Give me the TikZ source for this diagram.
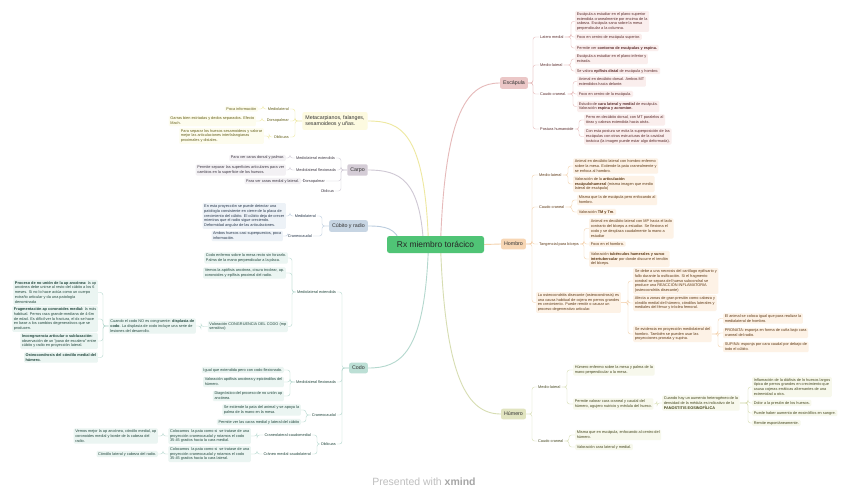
\documentclass[tikz,border=0pt]{standalone}
\usepackage{fontspec}
\setmainfont{Liberation Sans}
\usetikzlibrary{calc,backgrounds}
\definecolor{cenF}{RGB}{80,196,118}
\definecolor{escF}{RGB}{235,199,199}\definecolor{escL}{RGB}{250,238,237}\definecolor{escC}{RGB}{230,186,186}\definecolor{escT}{RGB}{92,45,45}
\definecolor{homF}{RGB}{247,214,180}\definecolor{homL}{RGB}{253,242,230}\definecolor{homC}{RGB}{244,209,172}\definecolor{homT}{RGB}{95,58,22}
\definecolor{humF}{RGB}{225,228,192}\definecolor{humL}{RGB}{247,248,236}\definecolor{humC}{RGB}{215,221,178}\definecolor{humT}{RGB}{70,72,32}
\definecolor{metF}{RGB}{253,250,224}\definecolor{metL}{RGB}{253,252,238}\definecolor{metC}{RGB}{238,232,160}\definecolor{metT}{RGB}{100,95,25}
\definecolor{carF}{RGB}{212,204,214}\definecolor{carL}{RGB}{243,241,244}\definecolor{carC}{RGB}{207,200,212}\definecolor{carT}{RGB}{62,56,68}
\definecolor{cubF}{RGB}{199,213,227}\definecolor{cubL}{RGB}{237,242,247}\definecolor{cubC}{RGB}{186,204,222}\definecolor{cubT}{RGB}{40,56,76}
\definecolor{codF}{RGB}{188,223,213}\definecolor{codL}{RGB}{235,245,242}\definecolor{codC}{RGB}{180,216,206}\definecolor{codT}{RGB}{35,72,62}
\newcommand\lf{\fontsize{3.85}{4.9}\selectfont}
\newcommand\rb[4][]{\draw[#1] (#2.east) let \p2=(#2.east) in -- (#4pt,\y2) |- (#3.west);}
\newcommand\lb[4][]{\draw[#1] (#2.west) let \p2=(#2.west) in -- (#4pt,\y2) |- (#3.east);}
\tikzset{
  leaf/.style={fill=#1L, text=#1T, rounded corners=1.2pt, inner xsep=1.6pt, inner ysep=1.3pt, align=left, font=\lf},
  lab/.style={text=#1T, inner sep=1pt, font=\lf},
  topic/.style={fill=#1F, text=black!80, rounded corners=2pt, font=\fontsize{5.3}{6.3}\selectfont, inner xsep=3pt, minimum height=10pt},
  mainline/.style={draw=#1C, line width=0.9pt},
}
\begin{document}
\begin{tikzpicture}[x=1pt,y=-1pt]
\useasboundingbox (0,0) rectangle (848,501);
\begin{scope}[on background layer]
\fill[white] (0,0) rectangle (848,501);
\end{scope}
% central and topics
\node[fill=cenF, rounded corners=2.5pt, minimum width=97pt, minimum height=17pt, font=\fontsize{8.4}{10}\selectfont, text=black!85] (C) at (435.5,244.5) {Rx miembro torácico};
\node[topic=esc] (E) at (514,83) {Escápula};
\node[topic=hom] (H) at (513.5,244) {Hombro};
\node[topic=hum] (U) at (513.5,414) {Húmero};
\node[topic=met, align=left, text=black!80] (M) at (335,121) {Metacarpianos, falanges,\\sesamoideos y uñas.};
\node[topic=car] (K) at (357.5,170) {Carpo};
\node[topic=cub] (R) at (348.5,226) {Cúbito y radio};
\node[topic=cod] (D) at (358.5,368) {Codo};
% ---------- Escapula
\node[lab=esc, anchor=west] (e1) at (539,37) {Latero medial};
\node[lab=esc, anchor=west] (e2) at (539,65) {Medio-lateral};
\node[lab=esc, anchor=west] (e3) at (539,94) {Caudo craneal.};
\node[lab=esc, anchor=west] (e4) at (539,129) {Postura humanoide};
\node[leaf=esc, anchor=west] (e1a) at (575,21.5) {Escápula a estudiar en el plano superior\\extendida cranealmente por encima de la\\cabeza. Escápula sana sobre la mesa\\perpendicular a la columna.};
\node[leaf=esc, anchor=west] (e1b) at (575,37) {Foco en centro de escápula superior.};
\node[leaf=esc, anchor=west] (e1c) at (575,48) {Permite ver \textbf{contorno de escápulas y espina.}};
\node[leaf=esc, anchor=west] (e2a) at (575,59) {Escápula a estudiar en el plano inferior y\\extrada.};
\node[leaf=esc, anchor=west] (e2b) at (575,71) {Se valora \textbf{epífisis distal} de escápula y hombro.};
\node[leaf=esc, anchor=west] (e3a) at (577,81.5) {Animal en decúbito dorsal. Ambos MT\\extendidos hacia delante.};
\node[leaf=esc, anchor=west] (e3b) at (577,94) {Foco en centro de la escápula.};
\node[leaf=esc, anchor=west] (e3c) at (577,106.5) {Estudio de \textbf{cara lateral y medial} de escápula.\\Valoración \textbf{espina y acromion}.};
\node[leaf=esc, anchor=west] (e4a) at (584,120) {Perro en decúbito dorsal, con MT paralelos al\\tórax y cabeza extendida hacia atrás.};
\node[leaf=esc, anchor=west] (e4b) at (584,136.5) {Con esta postura se evita la superposición de las\\escápulas con otras estructuras de la cavidad\\torácica (la imagen puede estar algo deformada).};
% ---------- Hombro
\node[lab=hom, anchor=west] (h1) at (538,175) {Medio-lateral};
\node[lab=hom, anchor=west] (h2) at (538,207) {Caudo craneal};
\node[lab=hom, anchor=west] (h3) at (538,244) {Tangencial para bíceps};
\node[leaf=hom, anchor=west] (h4) at (536,302.5) {La osteocondritis disecante (osteocondrosis) es\\una causa habitual de cojera en perros grandes\\en crecimiento. Puede remitir o causar un\\proceso degenerativo articular.};
\node[leaf=hom, anchor=west] (h1a) at (573,166) {Animal en decúbito lateral con hombro enfermo\\sobre la mesa. Extiende la pata cranealmente y\\se enfoca al hombro.};
\node[leaf=hom, anchor=west] (h1b) at (573,184) {Valoración de la \textbf{articulación}\\\textbf{escápulohumeral} (misma imagen que medio\\lateral de escápula)};
\node[leaf=hom, anchor=west] (h2a) at (577,200) {Misma que la de escápula pero enfocando al\\hombro.};
\node[leaf=hom, anchor=west] (h2b) at (577,212) {Valoración \textbf{TM y Tm}.};
\node[leaf=hom, anchor=west] (h3a) at (589,228.5) {Animal en decúbito lateral con MP hacia el lado\\contrario del bíceps a estudiar. Se flexiona el\\codo y se desplaza caudalmente la mano a\\estudiar};
\node[leaf=hom, anchor=west] (h3b) at (589,244) {Foco en el hombro.};
\node[leaf=hom, anchor=west] (h3c) at (589,259) {Valoración \textbf{tubérculos humerales y surco}\\\textbf{intertubercular} por donde discurre el tendón\\del bíceps.};
\node[leaf=hom, anchor=west] (h4a) at (633,281) {Se debe a una necrosis del cartílago epifisario y\\fallo durante la osificación. Si el fragmento\\condral se separa del hueso subcondral se\\produce una REACCIÓN INFLAMATORIA\\(osteocondritis disecante)};
\node[leaf=hom, anchor=west] (h4b) at (633,303) {Afecta a zonas de gran presión como cabeza y\\cóndilo medial del húmero, cóndilos laterales y\\mediales del fémur y tróclea femoral.};
\node[leaf=hom, anchor=west] (h4c) at (633,334) {Se evidencia en proyección mediolateral del\\hombro. También se pueden usar las\\proyecciones pronata y supina.};
\node[leaf=hom, anchor=west] (h4c1) at (723,318.5) {El animal se coloca igual que para realizar la\\medialateral de hombro.};
\node[leaf=hom, anchor=west] (h4c2) at (723,333) {PRONATA: esponja en forma de cuña bajo cara\\craneal del radio.};
\node[leaf=hom, anchor=west] (h4c3) at (723,347) {SUPINA: esponja por cara caudal por debajo de\\todo el cúbito.};
% ---------- Humero
\node[lab=hum, anchor=west] (u1) at (537,387) {Medio-lateral};
\node[lab=hum, anchor=west] (u2) at (537,441) {Caudo craneal};
\node[leaf=hum, anchor=west] (u1a) at (573,370) {Húmero enfermo sobre la mesa y palma de la\\mano perpendicular a la mesa.};
\node[leaf=hum, anchor=west] (u1b) at (573,404) {Permite valorar cara craneal y caudal del\\húmero, agujero nutricio y médula del hueso.};
\node[leaf=hum, anchor=west] (u1b1) at (662,403) {Cuando hay un aumento heterogéneo de la\\densidad de la médula es indicativo de la\\\textbf{PANOSTITIS EOSINOFÍLICA}};
\node[leaf=hum, anchor=west] (p1) at (752,387) {Inflamación de la diáfisis de lo huesos largos\\típica de perros grandes en crecimiento que\\causa cojeras erráticas alternantes de una\\extremidad a otra.};
\node[leaf=hum, anchor=west] (p2) at (752,403) {Dolor a la presión de los huesos.};
\node[leaf=hum, anchor=west] (p3) at (752,413) {Puede haber aumento de eosinófilos en sangre.};
\node[leaf=hum, anchor=west] (p4) at (752,423) {Remite espontáneamente.};
\node[leaf=hum, anchor=west] (u2a) at (575,435) {Misma que en escápula, enfocando al centro del\\húmero.};
\node[leaf=hum, anchor=west] (u2b) at (575,447) {Valoración cara lateral y medial.};
% ---------- Metacarpianos
\node[lab=met, anchor=east] (m1) at (290,109) {Mediolateral};
\node[lab=met, anchor=east] (m2) at (290,121) {Dorsopalmar};
\node[lab=met, anchor=east] (m3) at (290,137) {Oblicuas};
\node[leaf=met, anchor=east] (m1a) at (258,109) {Poca información};
\node[leaf=met, anchor=east] (m2a) at (256,121) {Garras bien estriadas y dedos separados. Efecto\\Mach.};
\node[leaf=met, anchor=east] (m3a) at (264,136) {Para separar los huesos sesamoideos y valorar\\mejor las articulaciones interfalangianas\\proximales y distales.};
% ---------- Carpo
\node[lab=car, anchor=east] (k1) at (336,158) {Mediolateral extendida};
\node[lab=car, anchor=east] (k2) at (337,170) {Mediolateral flexionada};
\node[lab=car, anchor=east] (k3) at (326,181) {Dorsopalmar};
\node[lab=car, anchor=east] (k4) at (335,191) {Oblicua};
\node[leaf=car, anchor=east] (k1a) at (286,158) {Para ver caras dorsal y palmar.};
\node[leaf=car, anchor=east] (k2a) at (286,170) {Permite separar las superficies articulares para ver\\cambios en la superficie de los huesos.};
\node[leaf=car, anchor=east] (k3a) at (301,181) {Para ver caras medial y lateral.};
% ---------- Cubito
\node[lab=cub, anchor=east] (r1) at (317,216) {Mediolateral};
\node[lab=cub, anchor=east] (r2) at (313,236) {Craneocaudal};
\node[leaf=cub, anchor=east] (r1a) at (286,216) {En esta proyección se puede detectar una\\patología consistente en cierre de la placa de\\crecimiento del cúbito. El cúbito deja de crecer\\mientras que el radio sigue creciendo.\\Deformidad angular de las articulaciones.};
\node[leaf=cub, anchor=east] (r2a) at (283,236) {Ambos huesos casi superpuestos, poca\\información.};
% ---------- Codo
\node[lab=cod, anchor=east] (d1) at (337,292) {Mediolateral extendida};
\node[lab=cod, anchor=east] (d2) at (337,382) {Mediolateral flexionada};
\node[lab=cod, anchor=east] (d3) at (337,415) {Craneocaudal};
\node[lab=cod, anchor=east] (d4) at (337,444) {Oblicuas};
\node[leaf=cod, anchor=east] (d1a) at (288,258) {Codo enfermo sobre la mesa recto sin forzarlo.\\Palma de la mano perpendicular a la placa.};
\node[leaf=cod, anchor=east] (d1b) at (286,273) {Vemos la apófisis ancónea, cisura troclear, ap.\\coronoides y epífisis proximal del radio.};
\node[leaf=cod, anchor=east] (d1c) at (288,326.5) {Valoración CONGRUENCIA DEL CODO (mp\\sensitivo)};
\node[leaf=cod, anchor=east] (d1c1) at (196,326) {Cuando el codo NO es congruente: \textbf{displasia de}\\\textbf{codo}. La displasia de codo incluye una serie de\\lesiones del desarrollo.};
\node[leaf=cod, anchor=east] (q1) at (98,292.5) {\textbf{Proceso de no unión de la ap ancónea:} la ap\\ancónea debe unirse al resto del cúbito a los 6\\meses. Si no lo hace actúa como un cuerpo\\extraño articular y da una patología\\denominada};
\node[leaf=cod, anchor=east] (q2) at (98,319) {\textbf{Fragmentación ap coronoides medial:} la más\\habitual. Perros raza grande-mediana de 4-6m\\de edad. Es difícil ver la fractura, el dx se hace\\en base a los cambios degenerativos que se\\producen.};
\node[leaf=cod, anchor=east] (q3) at (98,341) {\textbf{Incongruencia articular o subluxación:}\\observación de un "paso de escalera" entre\\cúbito y radio en proyección lateral.};
\node[leaf=cod, anchor=east] (q4) at (98,357.5) {\textbf{Osteocondrosis del cóndilo medial del}\\\textbf{húmero.}};
\node[leaf=cod, anchor=east] (d2a) at (284,370) {Igual que extendida pero con codo flexionado.};
\node[leaf=cod, anchor=east] (d2b) at (284,382) {Valoración apófisis ancónea y epicóndilos del\\húmero.};
\node[leaf=cod, anchor=east] (d2c) at (284,396) {Diagnóstico del proceso de no unión ap\\ancónea.};
\node[leaf=cod, anchor=east] (d3a) at (301,410) {Se extiende la pata del animal y se apoya la\\palma de la mano en la mesa.};
\node[leaf=cod, anchor=east] (d3b) at (301,422) {Permite ver las caras medial y lateral del cúbito};
\node[lab=cod, anchor=east] (d4a) at (312,435) {Craneolateral-caudomedial};
\node[lab=cod, anchor=east] (d4b) at (312,454) {Cráneo medial-caudolateral};
\node[leaf=cod, anchor=east] (d4a1) at (251,436) {Colocamos\ \ la pata como si\ \ se tratase de una\\proyección craneocaudal y rotamos el codo\\35-45 grados hacia la cara medial.};
\node[leaf=cod, anchor=east] (d4a1a) at (158,436) {Vemos mejor la ap ancónea, cóndilo medial, ap\\coronoides medial y borde de la cabeza del\\radio.};
\node[leaf=cod, anchor=east] (d4b1) at (251,454) {Colocamos\ \ la pata como si\ \ se tratase de una\\proyección craneocaudal y rotamos el codo\\35-45 grados hacia la cara lateral.};
\node[leaf=cod, anchor=east] (d4b1a) at (158,454) {Cóndilo lateral y cabeza del radio.};
% footer
\node[text=black!25, font=\fontsize{10.5}{12}\selectfont] (foot) at (424,482) {Presented with \textbf{\color{black!35}xmind}};
% ---------- connectors
\begin{scope}[on background layer, line width=0.6pt, rounded corners=2.5pt]
\draw[mainline=esc] ([xshift=5pt]C.center) .. controls (445,110) and (468,83) .. (E.west);
\draw[mainline=hom] (C.east) -- (H.west);
\draw[mainline=hum] ([xshift=5pt]C.center) .. controls (445,380) and (468,414) .. (U.west);
\draw[mainline=met] ([xshift=-7pt]C.center) .. controls (425,130) and (400,121) .. (M.east);
\draw[mainline=car] ([xshift=-12pt]C.center) .. controls (420,180) and (400,170) .. (K.east);
\draw[mainline=cub] ([xshift=-35pt]C.center) .. controls (397,228) and (385,226) .. (R.east);
\draw[mainline=cod] ([xshift=-7pt]C.center) .. controls (425,355) and (400,368) .. (D.east);
% escapula
\foreach \c in {e1,e2,e3,e4}{\rb[escC]{E}{\c}{533}}
\foreach \c in {e1a,e1b,e1c}{\rb[escC]{e1}{\c}{571}}
\foreach \c in {e2a,e2b}{\rb[escC]{e2}{\c}{571}}
\foreach \c in {e3a,e3b,e3c}{\rb[escC]{e3}{\c}{573}}
\foreach \c in {e4a,e4b}{\rb[escC]{e4}{\c}{579}}
% hombro
\foreach \c in {h1,h2,h3,h4}{\rb[homC]{H}{\c}{532}}
\foreach \c in {h1a,h1b}{\rb[homC]{h1}{\c}{568}}
\foreach \c in {h2a,h2b}{\rb[homC]{h2}{\c}{572}}
\foreach \c in {h3a,h3b,h3c}{\rb[homC]{h3}{\c}{584}}
\foreach \c in {h4a,h4b,h4c}{\rb[homC]{h4}{\c}{628}}
\foreach \c in {h4c1,h4c2,h4c3}{\rb[homC]{h4c}{\c}{718}}
% humero
\foreach \c in {u1,u2}{\rb[humC]{U}{\c}{532}}
\foreach \c in {u1a,u1b}{\rb[humC]{u1}{\c}{567}}
\rb[humC]{u1b}{u1b1}{657}
\foreach \c in {p1,p2,p3,p4}{\rb[humC]{u1b1}{\c}{748}}
\foreach \c in {u2a,u2b}{\rb[humC]{u2}{\c}{569}}
% metacarpianos
\foreach \c in {m1,m2,m3}{\lb[metC]{M}{\c}{295}}
\lb[metC]{m1}{m1a}{263}
\lb[metC]{m2}{m2a}{262}
\lb[metC]{m3}{m3a}{269}
% carpo
\foreach \c in {k1,k2,k3,k4}{\lb[carC]{K}{\c}{341}}
\lb[carC]{k1}{k1a}{290}
\lb[carC]{k2}{k2a}{290}
\lb[carC]{k3}{k3a}{304}
% cubito
\foreach \c in {r1,r2}{\lb[cubC]{R}{\c}{322}}
\lb[cubC]{r1}{r1a}{290}
\lb[cubC]{r2}{r2a}{288}
% codo
\foreach \c in {d1,d2,d3,d4}{\lb[codC]{D}{\c}{342}}
\foreach \c in {d1a,d1b,d1c}{\lb[codC]{d1}{\c}{292}}
\lb[codC]{d1c}{d1c1}{201}
\foreach \c in {q1,q2,q3,q4}{\lb[codC]{d1c1}{\c}{103}}
\foreach \c in {d2a,d2b,d2c}{\lb[codC]{d2}{\c}{290}}
\foreach \c in {d3a,d3b}{\lb[codC]{d3}{\c}{306}}
\foreach \c in {d4a,d4b}{\lb[codC]{d4}{\c}{317}}
\lb[codC]{d4a}{d4a1}{257}
\lb[codC]{d4a1}{d4a1a}{163}
\lb[codC]{d4b}{d4b1}{257}
\lb[codC]{d4b1}{d4b1a}{163}
\end{scope}
\end{tikzpicture}
\end{document}
